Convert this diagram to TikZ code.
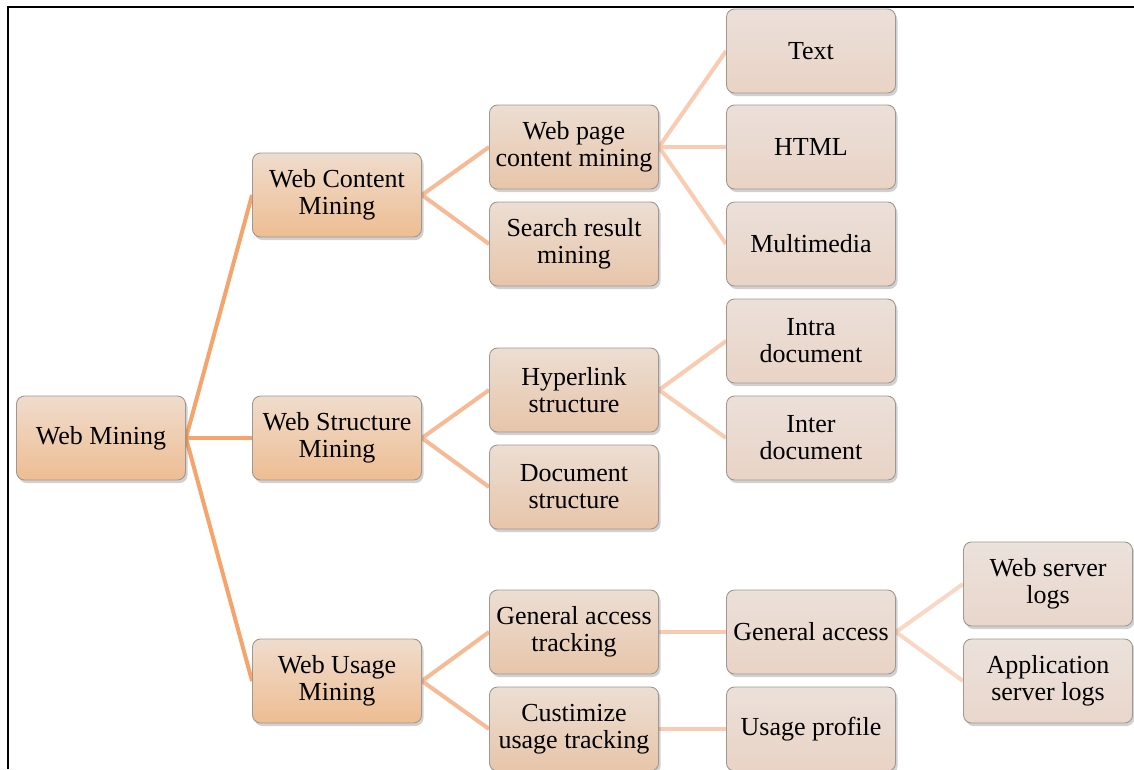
\documentclass[tikz,border=0pt]{standalone}
\usepackage{fontspec}
\setmainfont{Liberation Serif}
\usetikzlibrary{shadows,backgrounds}

\definecolor{edgeA}{HTML}{F5A46C}
\definecolor{edgeB}{HTML}{F8B995}
\definecolor{edgeC}{HTML}{FACBB0}
\definecolor{edgeD}{HTML}{FBD6C4}
\definecolor{boxAt}{HTML}{EFDCCD}
\definecolor{boxAb}{HTML}{EEBD92}
\definecolor{boxBt}{HTML}{ECDED3}
\definecolor{boxBb}{HTML}{E7C5A9}
\definecolor{boxCt}{HTML}{EBE0DA}
\definecolor{boxCb}{HTML}{E9D3C5}
\definecolor{boxDt}{HTML}{EBE2DC}
\definecolor{boxDb}{HTML}{E9D6CB}
\definecolor{boxline}{HTML}{A09890}

\tikzset{
  box/.style={draw=boxline, line width=0.9pt, rounded corners=8pt,
    minimum width=169pt, minimum height=84pt, inner sep=1pt,
    align=center, font=\fontsize{26}{27}\selectfont,
    drop shadow={shadow xshift=2pt, shadow yshift=-3pt, opacity=0.3, fill=black!60}},
  lvA/.style={box, top color=boxAt, bottom color=boxAb},
  lvB/.style={box, top color=boxBt, bottom color=boxBb},
  lvC/.style={box, top color=boxCt, bottom color=boxCb},
  lvD/.style={box, top color=boxDt, bottom color=boxDb},
  linkA/.style={draw=edgeA, line width=4pt},
  linkB/.style={draw=edgeB, line width=4pt},
  linkC/.style={draw=edgeC, line width=4pt},
  linkD/.style={draw=edgeD, line width=4pt},
  frame/.style={draw=black, line width=2.2pt}
}

\begin{document}
\begin{tikzpicture}[x=1pt, y=-1pt]
\useasboundingbox (0,0) rectangle (1134,769);
\clip (0,0) rectangle (1134,769);

% outer frame
\draw[frame] (8,769) -- (8,7) -- (1140,7);

% root and first level
\node[lvA] (wm)  at (101,438) {Web Mining};
\node[lvA] (wcm) at (337,195) {Web Content\\Mining};
\node[lvA] (wsm) at (337,438) {Web Structure\\Mining};
\node[lvA] (wum) at (337,681) {Web Usage\\Mining};

% second level
\node[lvB] (wpc) at (574,147) {Web page\\content mining};
\node[lvB] (srm) at (574,244) {Search result\\mining};
\node[lvB] (hls) at (574,390) {Hyperlink\\structure};
\node[lvB] (dcs) at (574,487) {Document\\structure};
\node[lvB] (gat) at (574,632) {General access\\tracking};
\node[lvB] (cut) at (574,729) {Custimize\\usage tracking};

% third level
\node[lvC] (txt) at (811,51)  {Text};
\node[lvC] (htm) at (811,147) {HTML};
\node[lvC] (mmd) at (811,244) {Multimedia};
\node[lvC] (ind) at (811,341) {Intra\\document};
\node[lvC] (itd) at (811,438) {Inter\\document};
\node[lvC] (gac) at (811,632) {General access};
\node[lvC] (upr) at (811,729) {Usage profile};

% fourth level
\node[lvD] (wsl) at (1048,584) {Web server\\logs};
\node[lvD] (asl) at (1048,681) {Application\\server logs};

\begin{scope}[on background layer]
  \draw[linkA] (wm.east) -- (wcm.west);
  \draw[linkA] (wm.east) -- (wsm.west);
  \draw[linkA] (wm.east) -- (wum.west);

  \draw[linkB] (wcm.east) -- (wpc.west);
  \draw[linkB] (wcm.east) -- (srm.west);
  \draw[linkB] (wsm.east) -- (hls.west);
  \draw[linkB] (wsm.east) -- (dcs.west);
  \draw[linkB] (wum.east) -- (gat.west);
  \draw[linkB] (wum.east) -- (cut.west);

  \draw[linkC] (wpc.east) -- (txt.west);
  \draw[linkC] (wpc.east) -- (htm.west);
  \draw[linkC] (wpc.east) -- (mmd.west);
  \draw[linkC] (hls.east) -- (ind.west);
  \draw[linkC] (hls.east) -- (itd.west);
  \draw[linkC] (gat.east) -- (gac.west);
  \draw[linkC] (cut.east) -- (upr.west);

  \draw[linkD] (gac.east) -- (wsl.west);
  \draw[linkD] (gac.east) -- (asl.west);
\end{scope}
\end{tikzpicture}
\end{document}
